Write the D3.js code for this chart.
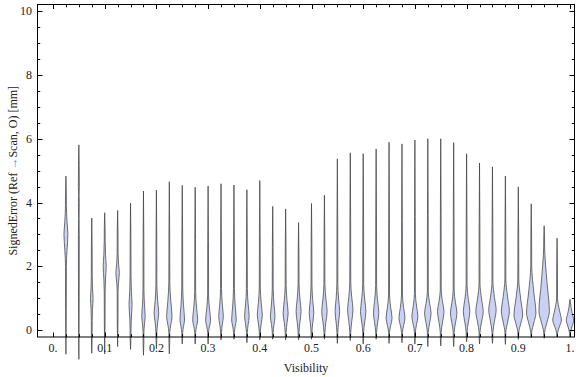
<!DOCTYPE html>
<html>
<head>
<meta charset="utf-8">
<script src="https://cdn.jsdelivr.net/npm/d3@7"></script>
<style>
  body { margin: 0; background: white; }
  text { font-family: "Liberation Serif", "DejaVu Serif", serif; }
</style>
</head>
<body>
<script>
'use strict'

// one violin per visibility bin
let visibility = [0.025, 0.05, 0.075, 0.1, 0.125, 0.15, 0.175, 0.2, 0.225, 0.25,
    0.275, 0.3, 0.325, 0.35, 0.375, 0.4, 0.425, 0.45, 0.475, 0.5,
    0.525, 0.55, 0.575, 0.6, 0.625, 0.65, 0.675, 0.7, 0.725, 0.75,
    0.775, 0.8, 0.825, 0.85, 0.875, 0.9, 0.925, 0.95, 0.975, 1.0]

let errMax = [4.83, 5.81, 3.51, 3.68, 3.75, 3.98, 4.36, 4.39, 4.65, 4.54,
    4.48, 4.52, 4.59, 4.55, 4.40, 4.69, 3.88, 3.80, 3.37, 3.97,
    4.23, 5.37, 5.56, 5.53, 5.68, 5.89, 5.84, 5.96, 6.00, 6.00,
    5.88, 5.53, 5.24, 5.12, 4.83, 4.49, 3.96, 3.27, 2.88, 0.96]

let errMin = [-0.76, -0.92, -0.73, -0.75, -0.52, -0.61, -0.79, -0.59, -0.75, -0.44,
    -0.44, -0.44, -0.31, -0.29, -0.40, -0.31, -0.29, -0.31, -0.31, -0.29,
    -0.29, -0.42, -0.33, -0.44, -0.29, -0.42, -0.40, -0.44, -0.52, -0.50,
    -0.52, -0.37, -0.44, -0.42, -0.45, -0.29, -0.24, -0.26, -0.22, -0.22]

// where the body of each violin starts, peaks and ends
let bodyLow = [2.0, 3.0, 0.3, 1.2, 1.2, 0.0, -0.08, -0.08, -0.08, -0.08,
    -0.08, -0.08, -0.08, -0.08, -0.08, -0.08, -0.08, -0.08, -0.08, -0.08,
    -0.08, -0.08, -0.08, -0.08, -0.08, -0.08, -0.08, -0.08, -0.08, -0.08,
    -0.08, -0.08, -0.08, -0.08, -0.08, -0.08, -0.08, -0.08, -0.1, -0.1]

let errMode = [3.0, 4.0, 1.0, 2.0, 1.8, 0.8, 0.42, 0.53, 0.42, 0.31,
    0.31, 0.31, 0.42, 0.31, 0.42, 0.47, 0.42, 0.53, 0.58, 0.53,
    0.58, 0.58, 0.63, 0.58, 0.53, 0.37, 0.37, 0.42, 0.53, 0.58,
    0.53, 0.58, 0.58, 0.63, 0.58, 0.47, 0.53, 0.58, 0.31, 0.31]

let bodyHigh = [3.9, 4.5, 1.7, 2.8, 2.4, 1.7, 1.3, 1.4, 1.5, 1.35,
    1.2, 1.1, 1.3, 1.3, 1.3, 1.35, 1.3, 1.4, 1.45, 1.4,
    1.45, 1.45, 1.5, 1.45, 1.4, 1.1, 1.1, 1.15, 1.2, 1.25,
    1.25, 1.4, 1.45, 1.5, 1.6, 1.6, 2.0, 2.6, 1.0, 0.85]

// relative density at the peak (1 = widest violin)
let peakDensity = [0.38, 0.08, 0.25, 0.29, 0.33, 0.29, 0.33, 0.44, 0.52, 0.44,
    0.48, 0.48, 0.44, 0.44, 0.44, 0.48, 0.44, 0.48, 0.48, 0.44,
    0.52, 0.44, 0.52, 0.52, 0.52, 0.58, 0.58, 0.58, 0.63, 0.63,
    0.63, 0.63, 0.71, 0.71, 0.77, 0.83, 0.90, 1.0, 0.83, 0.71]

let xTicks = [0, 0.1, 0.2, 0.3, 0.4, 0.5, 0.6, 0.7, 0.8, 0.9, 1.0]
let xTickLabels = ['0.', '0.1', '0.2', '0.3', '0.4', '0.5', '0.6', '0.7', '0.8', '0.9', '1.']
let yTicks = [0, 2, 4, 6, 8, 10]

let width = 576,
    height = 377,
    frameLeft = 37, frameRight = 575, frameTop = 4.5, frameBottom = 337

let svg = d3.select('body').append('svg')
    .attr('width', width)
    .attr('height', height)

let x = d3.scaleLinear().domain([0, 1]).range([53, 570])
let y = d3.scaleLinear().domain([0, 10]).range([330, 11.3])
let w = d3.scaleLinear().domain([0, 1]).range([0, 5.2])

let tailDensity = 0.07

let violins = visibility.map(function(v, i) {
    let pts = [
        [errMin[i], 0],
        [(errMin[i] + bodyLow[i]) / 2, tailDensity],
        [bodyLow[i], tailDensity * 1.2],
        [(bodyLow[i] + errMode[i]) / 2, peakDensity[i] * 0.55],
        [errMode[i], peakDensity[i]],
        [errMode[i] + (bodyHigh[i] - errMode[i]) * 0.45, peakDensity[i] * 0.55],
        [bodyHigh[i], tailDensity * 1.3],
        [(bodyHigh[i] + errMax[i]) / 2, tailDensity],
        [errMax[i], 0]
    ]
    return {vis: v, pts: pts}
})

let area = d3.area()
    .y(function(d) { return y(d[0]) })
    .curve(d3.curveMonotoneY)

svg.append('g').selectAll('path').data(violins).enter()
    .append('path')
    .attr('d', function(d) {
        let cx = x(d.vis)
        return area.x0(function(p) { return cx - w(p[1]) })
            .x1(function(p) { return cx + w(p[1]) })(d.pts)
    })
    .attr('fill', '#cbd1f4')
    .attr('stroke', '#3c3c3c')
    .attr('stroke-opacity', 0.8)
    .attr('stroke-width', 0.9)

// frame
let frame = svg.append('g')
    .attr('stroke', 'black')
    .attr('stroke-width', 1)
    .attr('fill', 'none')

frame.append('rect')
    .attr('x', frameLeft + 0.5)
    .attr('y', frameTop)
    .attr('width', frameRight - frameLeft - 1)
    .attr('height', frameBottom - frameTop)

// y ticks (left and right)
let yMinor = d3.range(0, 10.01, 0.5)
yMinor.forEach(function(t) {
    let major = Math.abs(t % 2) < 1e-6
    let len = major ? 5.5 : 3.2
    let py = Math.round(y(t)) + 0.5
    frame.append('line')
        .attr('x1', frameLeft).attr('x2', frameLeft + len)
        .attr('y1', py).attr('y2', py)
    frame.append('line')
        .attr('x1', frameRight).attr('x2', frameRight - len)
        .attr('y1', py).attr('y2', py)
})

// x ticks (bottom and top)
let xMinor = d3.range(0, 1.001, 0.025)
xMinor.forEach(function(t, i) {
    let major = i % 4 === 0
    let px = Math.round(x(t)) + 0.5
    frame.append('line')
        .attr('x1', px).attr('x2', px)
        .attr('y1', frameBottom).attr('y2', frameBottom - (major ? 4.5 : 2.8))
    frame.append('line')
        .attr('x1', px).attr('x2', px)
        .attr('y1', frameTop).attr('y2', frameTop + (major ? 4.5 : 2.8))
})

svg.append('g').selectAll('text').data(yTicks).enter()
    .append('text')
    .attr('x', 32)
    .attr('y', function(d) { return y(d) + 4 })
    .attr('text-anchor', 'end')
    .attr('font-size', 12)
    .attr('fill', '#222')
    .text(function(d) { return d })

svg.append('g').selectAll('text').data(xTicks).enter()
    .append('text')
    .attr('x', function(d) { return x(d) })
    .attr('y', 352)
    .attr('text-anchor', 'middle')
    .attr('font-size', 12)
    .attr('fill', '#222')
    .text(function(d, i) { return xTickLabels[i] })

svg.append('text')
    .attr('x', (frameLeft + frameRight) / 2)
    .attr('y', 372)
    .attr('text-anchor', 'middle')
    .attr('font-size', 12)
    .attr('fill', '#222')
    .text('Visibility')

let ylab = svg.append('text')
    .attr('transform', 'translate(17,' + ((frameTop + frameBottom) / 2) + ') rotate(-90)')
    .attr('text-anchor', 'middle')
    .attr('font-size', 12)
    .attr('fill', '#222')
ylab.append('tspan').text('SignedError (Ref ')
ylab.append('tspan').attr('fill', '#3b8fd9').text('→')
ylab.append('tspan').text('Scan, O) [mm]')
</script>
</body>
</html>
